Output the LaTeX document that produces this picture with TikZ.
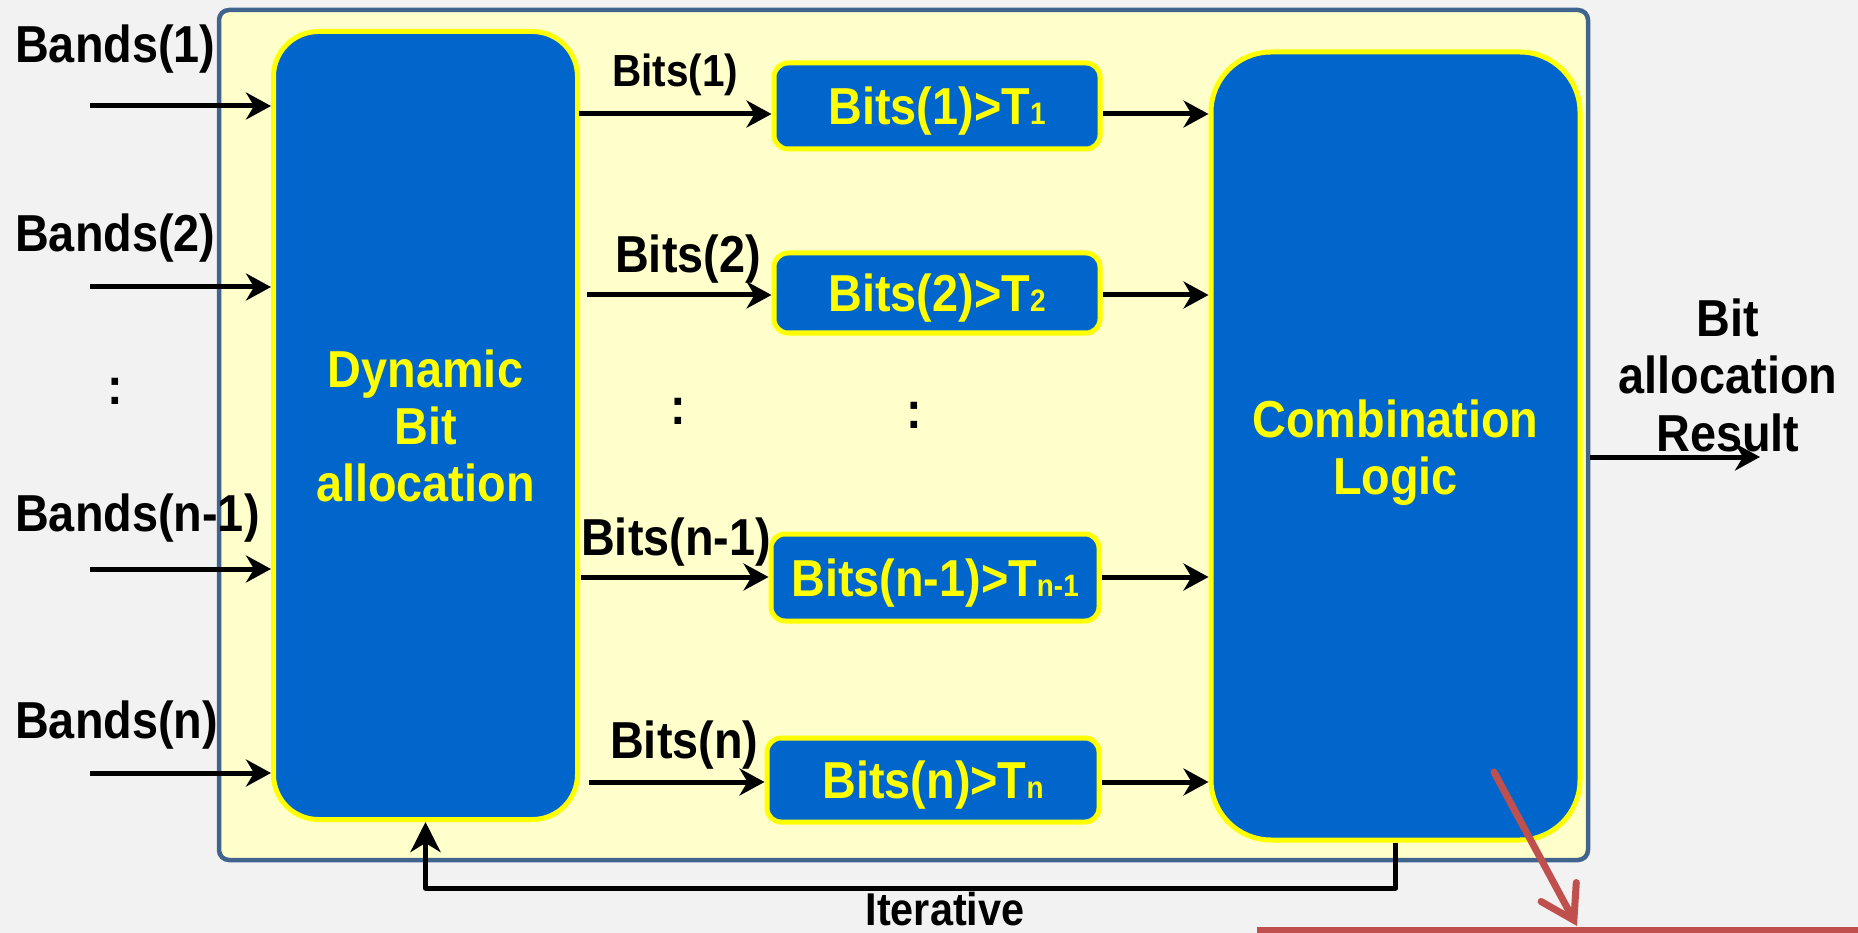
\documentclass[tikz,border=0pt]{standalone}
\usepackage{fontspec}
\setmainfont{Liberation Sans}[FakeStretch=0.9]
\usetikzlibrary{arrows.meta}
\definecolor{bgc}{HTML}{F2F2F2}
\definecolor{panelfill}{HTML}{FFFFCC}
\definecolor{panelline}{HTML}{41648F}
\definecolor{boxblue}{HTML}{0066CC}
\definecolor{boxyellow}{HTML}{FFFF00}
\definecolor{redc}{HTML}{C0504D}
\newcommand\tsub[1]{{\fontsize{31}{31}\selectfont #1}}
\begin{document}
\begin{tikzpicture}[x=1pt,y=-1pt,
  font=\bfseries\fontsize{52}{57}\selectfont,
  bigbox/.style={draw=boxyellow, fill=boxblue, line width=5pt, text=boxyellow, align=center, inner sep=0pt},
  intext/.style={text=boxyellow, align=center, inner sep=0pt},
  thbox/.style={draw=boxyellow, fill=boxblue, line width=5pt, text=boxyellow, rounded corners=14pt, inner sep=0pt, text height=37.2pt, text depth=0pt},
  lbl/.style={anchor=base west, inner sep=0pt},
  arr/.style={line width=5pt, -{Stealth[length=25pt,width=27pt,inset=8pt]}},
]
\fill[bgc] (0,0) rectangle (1858,933);
\useasboundingbox (0,0) rectangle (1858,933);

% panel
\node[draw=panelline, fill=panelfill, line width=4.5pt, rounded corners=10pt,
      minimum width=1369pt, minimum height=850pt, inner sep=0pt] (panel) at (903.5,435) {};

% main blocks
\node[bigbox, rounded corners=45pt, minimum width=304pt, minimum height=788pt] (dyn) at (425.5,425.5) {Dynamic\\Bit\\allocation};
\node[bigbox, rounded corners=60pt, minimum width=369pt, minimum height=788pt] (comb) at (1395.5,446) {};
\node[intext] (combtext) at ([yshift=-7pt]comb.center) {Combination\\Logic};

% threshold boxes
\node[thbox, minimum width=326pt, minimum height=86pt] (th1) at (937,106) {Bits(1)>T\tsub{1}};
\node[thbox, minimum width=326pt, minimum height=80pt] (th2) at (937,293) {Bits(2)>T\tsub{2}};
\node[thbox, minimum width=328pt, minimum height=87pt] (th3) at (935,577.5) {Bits(n-1)>T\tsub{n-1}};
\node[thbox, minimum width=332pt, minimum height=84pt] (th4) at (933,780) {Bits(n)>T\tsub{n}};

% input labels
\node[lbl] (b1) at (15,63) {Bands(1)};
\node[lbl] (b2) at (15,252) {Bands(2)};
\node[lbl] (b3) at (15,531) {Bands(n-1)};
\node[lbl] (b4) at (15,738) {Bands(n)};
\node (d1) at (115,391) {:};
\node (d2) at (678,411) {:};
\node (d3) at (914,415) {:};

% bits labels
\node[lbl, font=\bfseries\fontsize{45}{50}\selectfont] (l1) at (612,87) {Bits(1)};
\node[lbl] (l2) at (615,273) {Bits(2)};
\node[lbl] (l3) at (581,555) {Bits(n-1)};
\node[lbl] (l4) at (610,758) {Bits(n)};

% output label
\node[align=center, inner sep=0pt, font=\bfseries\fontsize{52}{57.5}\selectfont] (res) at (1728,375) {Bit\\allocation\\Result};
\node[anchor=base, inner sep=0pt, font=\bfseries\fontsize{46}{50}\selectfont] (it) at (945,925) {Iterative};

% input arrows
\coordinate (i1) at (90,106);
\coordinate (i2) at (90,287);
\coordinate (i3) at (90,569);
\coordinate (i4) at (90,773);
\foreach \c in {i1,i2,i3,i4} \draw[arr] (\c) -- (dyn.west |- \c);

% bits arrows
\coordinate (o1) at (579,114);
\coordinate (o2) at (587,295);
\coordinate (o3) at (581,577);
\coordinate (o4) at (589,782);
\draw[arr] (o1) -- (th1.west |- o1);
\draw[arr] (o2) -- (th2.west |- o2);
\draw[arr] (o3) -- (th3.west |- o3);
\draw[arr] (o4) -- (th4.west |- o4);
\draw[arr] (th1.east |- o1) -- (comb.west |- o1);
\draw[arr] (th2.east |- o2) -- (comb.west |- o2);
\draw[arr] (th3.east |- o3) -- (comb.west |- o3);
\draw[arr] (th4.east |- o4) -- (comb.west |- o4);

% output arrow
\coordinate (out) at (1760,457);
\draw[arr] (panel.east |- out) -- (out);

% feedback
\coordinate (fb) at (1395.5,888);
\draw[line width=5pt, line join=round, -{Stealth[length=30pt,width=30pt,inset=9pt]}]
  (comb.south) -- (comb.south |- fb) -| (dyn.south);

% red annotation
\coordinate (r1) at (1494,772);
\coordinate (r2) at (1577,926);
\draw[redc, line width=7pt, line cap=round, line join=round, -{Straight Barb[length=32pt,width=40pt,line cap=round]}] (r1) -- (r2);
\coordinate (rl) at (1257,930);
\coordinate (rr) at (1860,930);
\draw[redc, line width=6pt] (rl) -- (rr);
\end{tikzpicture}
\end{document}
